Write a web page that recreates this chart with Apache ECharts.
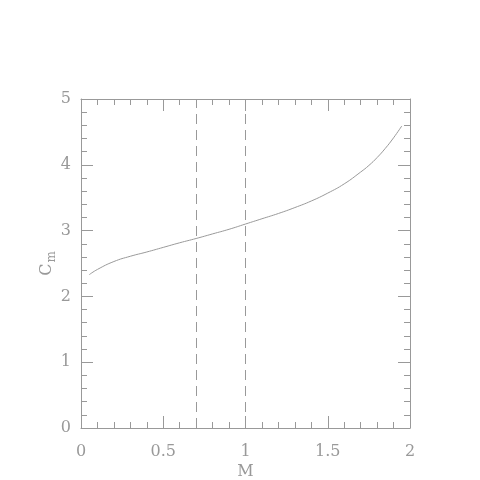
<!DOCTYPE html>
<html><head><meta charset="utf-8">
<script src="https://cdn.jsdelivr.net/npm/echarts@6/dist/echarts.min.js"></script>
<style>html,body{margin:0;padding:0;background:#fff}#c{width:480px;height:480px}</style>
</head><body><div id="c"></div>
<script>
var M  = [0.05, 0.1, 0.2, 0.3, 0.4, 0.5, 0.6, 0.7, 0.8, 0.9, 1.0, 1.1, 1.2, 1.3, 1.4, 1.5, 1.6, 1.7, 1.75, 1.8, 1.85, 1.9, 1.95];
var Cm = [2.33, 2.41, 2.53, 2.61, 2.675, 2.745, 2.815, 2.88, 2.95, 3.02, 3.10, 3.18, 3.26, 3.35, 3.45, 3.57, 3.71, 3.89, 3.99, 4.11, 4.25, 4.41, 4.59];
var vLines = [0.7, 1.0];
var xTicks = ['0', '0.5', '1', '1.5', '2'];
var yTicks = ['0', '1', '2', '3', '4', '5'];

var grey = '#999';
var font = 'DejaVu Serif';
function axisBase(pos, showLabel, isX) {
  return {
    type: 'value', position: pos,
    min: 0, max: isX ? 2 : 5, interval: isX ? 0.5 : 1,
    axisLine: {show: true, onZero: false, lineStyle: {color: grey, width: 1}},
    axisTick: {show: true, inside: true, length: 12, lineStyle: {color: grey}},
    minorTick: {show: true, splitNumber: 5, length: 6, lineStyle: {color: grey}},
    splitLine: {show: false},
    axisLabel: {show: showLabel, color: grey, fontFamily: font, fontSize: 16,
      margin: isX ? 16 : 10,
      formatter: function (v) {
        var arr = isX ? xTicks : yTicks;
        var idx = Math.round(v / (isX ? 0.5 : 1));
        return arr[idx] !== undefined ? arr[idx] : '';
      }}
  };
}
var xB = axisBase('bottom', true, true);
xB.name = 'M'; xB.nameLocation = 'middle'; xB.nameGap = 36; xB.nameMoveOverlap = false;
xB.nameTextStyle = {color: grey, fontFamily: font, fontSize: 16};
var xT = axisBase('top', false, true);
var yL = axisBase('left', true, false);
yL.name = '{c|C}{m|m}'; yL.nameLocation = 'middle'; yL.nameGap = 23; yL.nameRotate = 90;
yL.nameMoveOverlap = false;
yL.nameTextStyle = {color: grey, fontFamily: font,
  rich: {c: {fontSize: 16, color: grey, fontFamily: font},
         m: {fontSize: 12, color: grey, fontFamily: font, padding: [10, 0, 0, 1]}}};
var yR = axisBase('right', false, false);

var chart = echarts.init(document.getElementById('c'));
chart.setOption({
  animation: false,
  grid: {left: 81, right: 70, top: 99, bottom: 52, containLabel: false, outerBoundsMode: 'none'},
  xAxis: [xB, xT],
  yAxis: [yL, yR],
  series: [{
    type: 'line', xAxisIndex: 0, yAxisIndex: 0,
    data: M.map(function (m, i) { return [m, Cm[i]]; }),
    smooth: 0.5, showSymbol: false, symbol: 'none',
    lineStyle: {color: grey, width: 1},
    markLine: {
      silent: true, symbol: 'none', label: {show: false},
      lineStyle: {color: grey, width: 1, type: [10, 6]},
      data: vLines.map(function (v) { return {xAxis: v}; })
    }
  }]
});
</script></body></html>
